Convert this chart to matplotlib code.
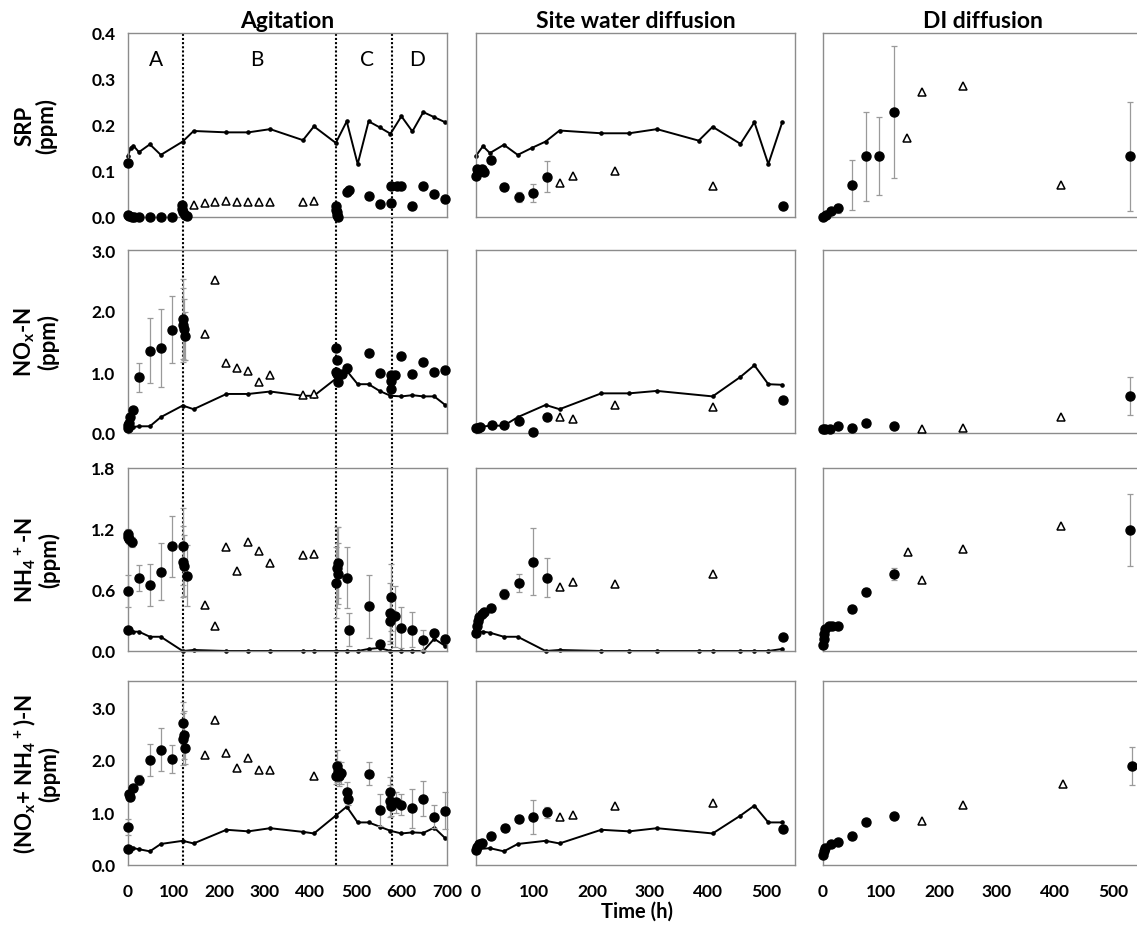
import numpy as np
import matplotlib
matplotlib.use('Agg')
import matplotlib.pyplot as plt
from matplotlib.lines import Line2D
from matplotlib.transforms import blended_transform_factory

plt.rcParams['font.family'] = ['Lato', 'DejaVu Sans']
plt.rcParams['mathtext.default'] = 'regular'

# ---------------- data ----------------
col_titles = ['Agitation', 'Site water diffusion', 'DI diffusion']
row_labels = ['SRP\n(ppm)', 'NO$_x$-N\n(ppm)', 'NH$_4$$^+$-N\n(ppm)',
              '(NO$_x$+ NH$_4$$^+$)-N\n(ppm)']
phase_t = [120, 457, 580]
phase_names = ['A', 'B', 'C', 'D']
phase_label_t = [62, 283, 525, 635]

# Agitation: line (site water), circles (+ sd), triangles
ag_lt = [0, 6, 12, 24, 48, 72, 120, 144, 216, 264, 312, 384, 408, 456,
         480, 504, 528, 552, 576, 600, 624, 648, 672, 696]
ag_srp_l = [0.133, 0.151, 0.155, 0.141, 0.158, 0.135, 0.164, 0.187, 0.184,
            0.184, 0.191, 0.167, 0.197, 0.161, 0.208, 0.115, 0.208, 0.195,
            0.181, 0.219, 0.186, 0.228, 0.217, 0.206]
ag_nox_l = [0.08, 0.09, 0.10, 0.11, 0.11, 0.26, 0.45, 0.39, 0.64, 0.64, 0.68,
            0.61, 0.61, 0.89, 1.02, 0.80, 0.80, 0.69, 0.61, 0.60, 0.62, 0.60,
            0.60, 0.46]
ag_nh4_l = [0.21, 0.20, 0.19, 0.19, 0.14, 0.14, 0.0, 0.01, 0.0, 0.0, 0.0, 0.0,
            0.0, 0.0, 0.0, 0.0, 0.02, 0.03, 0.0, 0.0, 0.0, 0.0, 0.12, 0.05]
ag_sum_l = [0.30, 0.31, 0.32, 0.30, 0.26, 0.40, 0.46, 0.41, 0.67, 0.64, 0.70,
            0.63, 0.60, 0.94, 1.11, 0.81, 0.81, 0.73, 0.65, 0.60, 0.62, 0.61,
            0.71, 0.51]

ag_srp_ct = [0, 0, 3, 8, 14, 25, 48, 72, 96, 118, 119, 121, 126, 130, 456, 457,
             458, 459, 460, 481, 485, 529, 553, 577, 578, 590, 600, 624, 648,
             672, 696]
ag_srp_c = [0.117, 0.004, 0.002, 0.0, 0.0, 0.0, 0.0, 0.0, 0.0, 0.026, 0.017,
            0.010, 0.004, 0.002, 0.024, 0.016, 0.010, 0.004, 0.0, 0.054, 0.058,
            0.045, 0.028, 0.030, 0.067, 0.067, 0.067, 0.025, 0.067, 0.051,
            0.039]
ag_srp_ce = [0] * len(ag_srp_c)
ag_srp_tt = [144, 168, 192, 216, 240, 264, 288, 312, 384, 408]
ag_srp_tr = [0.026, 0.030, 0.033, 0.035, 0.033, 0.033, 0.033, 0.033, 0.033,
             0.035]

ag_nox_ct = [0, 1, 2, 4, 12, 24, 48, 72, 96, 120, 121, 122, 125, 457, 458, 457,
             459, 460, 470, 481, 529, 553, 577, 577, 578, 586, 599, 623, 647,
             671, 696]
ag_nox_c = [0.09, 0.13, 0.17, 0.26, 0.37, 0.91, 1.35, 1.40, 1.69, 1.77, 1.87,
            1.70, 1.59, 1.40, 1.19, 1.00, 0.96, 0.83, 0.97, 1.06, 1.31, 0.98,
            0.95, 0.85, 0.72, 0.95, 1.26, 0.97, 1.16, 1.00, 1.04]
ag_nox_ce = [0, 0, 0, 0, 0, 0.24, 0.53, 0.64, 0.55, 0.60, 0.65, 0.50, 0.40,
             0, 0, 0, 0, 0, 0, 0, 0, 0, 0, 0, 0, 0, 0, 0, 0, 0, 0]
ag_nox_tt = [168, 192, 216, 240, 264, 288, 312, 384, 408]
ag_nox_tr = [1.63, 2.51, 1.14, 1.07, 1.01, 0.84, 0.95, 0.62, 0.64]

ag_nh4_ct = [0, 1, 3, 8, 0, 0, 24, 48, 72, 96, 120, 120, 122, 130, 456, 458,
             461, 461, 481, 484, 529, 553, 577, 576, 576, 586, 599, 623, 647,
             671, 696]
ag_nh4_c = [1.15, 1.12, 1.10, 1.07, 0.59, 0.21, 0.72, 0.65, 0.78, 1.03, 1.03,
            0.88, 0.84, 0.74, 0.67, 0.82, 0.87, 0.76, 0.72, 0.21, 0.44, 0.07,
            0.53, 0.37, 0.30, 0.34, 0.23, 0.21, 0.11, 0.18, 0.12]
ag_nh4_ce = [0.05, 0.05, 0.05, 0.05, 0.155, 0, 0.13, 0.21, 0.28, 0.30, 0.38,
             0.35, 0.30, 0.30, 0.35, 0.40, 0.35, 0.30, 0.30, 0.16, 0.31, 0,
             0.33, 0.30, 0.20, 0.30, 0.20, 0.17, 0.10, 0, 0]
ag_nh4_tt = [168, 192, 216, 240, 264, 288, 312, 384, 408]
ag_nh4_tr = [0.45, 0.25, 1.02, 0.79, 1.07, 0.98, 0.87, 0.94, 0.95]

ag_sum_ct = [0, 0, 3, 5, 12, 25, 48, 72, 96, 120, 121, 123, 125, 458, 460, 464,
             456, 467, 481, 483, 529, 553, 576, 575, 578, 587, 599, 624, 648,
             672, 696]
ag_sum_c = [0.30, 0.73, 1.35, 1.29, 1.46, 1.62, 2.00, 2.19, 2.02, 2.71, 2.40,
            2.47, 2.23, 1.88, 1.78, 1.70, 1.70, 1.75, 1.38, 1.25, 1.74, 1.05,
            1.38, 1.22, 1.13, 1.19, 1.15, 1.08, 1.26, 0.92, 1.03]
ag_sum_ce = [0, 0.15, 0, 0, 0, 0.10, 0.30, 0.41, 0.27, 0.40, 0.50, 0.45, 0.30,
             0.30, 0.20, 0.20, 0.15, 0.20, 0.20, 0.10, 0.22, 0.30, 0.30, 0.30,
             0.20, 0.20, 0.20, 0.37, 0.33, 0.22, 0.35]
ag_sum_tt = [168, 192, 216, 240, 264, 288, 312, 408]
ag_sum_tr = [2.09, 2.76, 2.13, 1.84, 2.04, 1.80, 1.80, 1.70]

# Site water diffusion
sw_srp_lt = [0, 12, 24, 48, 72, 96, 120, 144, 216, 264, 312, 384, 408, 456,
             480, 504, 528]
sw_srp_l = [0.133, 0.154, 0.139, 0.157, 0.135, 0.150, 0.164, 0.188, 0.182,
            0.182, 0.191, 0.166, 0.196, 0.159, 0.206, 0.115, 0.206]
sw_nox_lt = [0, 24, 48, 72, 120, 144, 216, 264, 312, 408, 456, 480, 504, 528]
sw_nox_l = [0.09, 0.12, 0.12, 0.26, 0.46, 0.39, 0.65, 0.65, 0.69, 0.60, 0.92,
            1.11, 0.80, 0.79]
sw_nh4_lt = [0, 12, 24, 48, 72, 120, 144, 216, 264, 312, 384, 408, 456, 480,
             504, 528]
sw_nh4_l = [0.19, 0.19, 0.18, 0.14, 0.14, 0.0, 0.01, 0.0, 0.0, 0.0, 0.0, 0.0,
            0.0, 0.0, 0.0, 0.02]
sw_sum_lt = [0, 24, 48, 72, 120, 144, 216, 264, 312, 408, 456, 480, 504, 528]
sw_sum_l = [0.30, 0.32, 0.26, 0.40, 0.46, 0.41, 0.67, 0.64, 0.70, 0.60, 0.94,
            1.13, 0.81, 0.81]

sw_srp_ct = [0, 1, 4, 10, 14, 26, 49, 74, 98, 122, 530]
sw_srp_c = [0.090, 0.104, 0.097, 0.104, 0.097, 0.124, 0.065, 0.044, 0.052,
            0.088, 0.023]
sw_srp_ce = [0, 0, 0, 0, 0, 0, 0, 0.011, 0.02, 0.033, 0]
sw_nox_ct = [0, 3, 7, 27, 49, 74, 98, 122, 530]
sw_nox_c = [0.08, 0.08, 0.10, 0.13, 0.13, 0.20, 0.02, 0.26, 0.54]
sw_nox_ce = [0, 0, 0, 0, 0, 0, 0, 0.03, 0]
sw_nh4_ct = [0, 1, 3, 6, 10, 14, 26, 49, 74, 98, 122, 530]
sw_nh4_c = [0.18, 0.25, 0.30, 0.33, 0.36, 0.38, 0.42, 0.56, 0.67, 0.88, 0.72,
            0.14]
sw_nh4_ce = [0, 0, 0, 0, 0, 0, 0, 0.05, 0.09, 0.33, 0.19, 0]
sw_sum_ct = [0, 2, 5, 10, 26, 50, 74, 98, 122, 530]
sw_sum_c = [0.28, 0.35, 0.39, 0.42, 0.56, 0.71, 0.87, 0.91, 1.00, 0.68]
sw_sum_ce = [0, 0, 0, 0, 0, 0, 0, 0.32, 0.10, 0]

sw_tt = [144, 168, 240, 408]
sw_srp_tr = [0.075, 0.090, 0.100, 0.068]
sw_nox_tr = [0.26, 0.23, 0.46, 0.42]
sw_nh4_tr = [0.63, 0.68, 0.66, 0.76]
sw_sum_tr = [0.92, 0.95, 1.13, 1.17]

# DI diffusion
di_srp_ct = [0, 5, 14, 25, 50, 74, 97, 123, 530]
di_srp_c = [0.0, 0.005, 0.014, 0.019, 0.070, 0.132, 0.132, 0.228, 0.132]
di_srp_ce = [0, 0, 0, 0.01, 0.055, 0.097, 0.085, 0.143, 0.118]
di_srp_tt = [145, 171, 241, 410]
di_srp_tr = [0.172, 0.272, 0.285, 0.070]

di_nox_ct = [0, 4, 12, 25, 50, 74, 122, 530]
di_nox_c = [0.07, 0.07, 0.07, 0.11, 0.08, 0.17, 0.11, 0.61]
di_nox_ce = [0, 0, 0, 0, 0, 0, 0, 0.31]
di_nox_tt = [170, 242, 410]
di_nox_tr = [0.07, 0.09, 0.27]

di_nh4_ct = [0, 1, 2, 4, 10, 16, 25, 50, 74, 123, 530]
di_nh4_c = [0.06, 0.12, 0.17, 0.22, 0.25, 0.25, 0.25, 0.41, 0.58, 0.76, 1.19]
di_nh4_ce = [0, 0, 0, 0, 0, 0, 0, 0, 0.04, 0.06, 0.355]
di_nh4_tt = [146, 171, 242, 410]
di_nh4_tr = [0.97, 0.70, 1.00, 1.23]

di_sum_ct = [0, 1, 4, 13, 26, 50, 74, 123, 532]
di_sum_c = [0.19, 0.26, 0.32, 0.40, 0.43, 0.56, 0.81, 0.93, 1.88]
di_sum_ce = [0, 0, 0, 0, 0, 0, 0, 0.03, 0.36]
di_sum_tt = [170, 242, 413]
di_sum_tr = [0.83, 1.15, 1.55]

# ---------------- layout ----------------
W, H = 1137, 928
col_left = [128, 476, 823]
col_w = 319
row_top = [34, 251, 469, 682]
row_h = [184, 183, 183, 184]
xlims = [700, 550, 550]
xticks = [np.arange(0, 701, 100), np.arange(0, 501, 100), np.arange(0, 501, 100)]
ylims = [0.4, 3.0, 1.8, 3.5]
yticks = [[0, 0.1, 0.2, 0.3, 0.4], [0, 1, 2, 3], [0, 0.6, 1.2, 1.8], [0, 1, 2, 3]]

panels = [
    [(ag_lt, ag_srp_l, ag_srp_ct, ag_srp_c, ag_srp_ce, ag_srp_tt, ag_srp_tr),
     (sw_srp_lt, sw_srp_l, sw_srp_ct, sw_srp_c, sw_srp_ce, sw_tt, sw_srp_tr),
     (None, None, di_srp_ct, di_srp_c, di_srp_ce, di_srp_tt, di_srp_tr)],
    [(ag_lt, ag_nox_l, ag_nox_ct, ag_nox_c, ag_nox_ce, ag_nox_tt, ag_nox_tr),
     (sw_nox_lt, sw_nox_l, sw_nox_ct, sw_nox_c, sw_nox_ce, sw_tt, sw_nox_tr),
     (None, None, di_nox_ct, di_nox_c, di_nox_ce, di_nox_tt, di_nox_tr)],
    [(ag_lt, ag_nh4_l, ag_nh4_ct, ag_nh4_c, ag_nh4_ce, ag_nh4_tt, ag_nh4_tr),
     (sw_nh4_lt, sw_nh4_l, sw_nh4_ct, sw_nh4_c, sw_nh4_ce, sw_tt, sw_nh4_tr),
     (None, None, di_nh4_ct, di_nh4_c, di_nh4_ce, di_nh4_tt, di_nh4_tr)],
    [(ag_lt, ag_sum_l, ag_sum_ct, ag_sum_c, ag_sum_ce, ag_sum_tt, ag_sum_tr),
     (sw_sum_lt, sw_sum_l, sw_sum_ct, sw_sum_c, sw_sum_ce, sw_tt, sw_sum_tr),
     (None, None, di_sum_ct, di_sum_c, di_sum_ce, di_sum_tt, di_sum_tr)],
]

fig = plt.figure(figsize=(W / 100, H / 100), dpi=100)
axes = [[None] * 3 for _ in range(4)]

for r in range(4):
    for c in range(3):
        ax = fig.add_axes([col_left[c] / W, 1 - (row_top[r] + row_h[r]) / H,
                           col_w / W, row_h[r] / H])
        ax.set_facecolor('none')
        axes[r][c] = ax
        lt, lv, ct, cv, ce, tt, tv = panels[r][c]
        if lt is not None:
            ax.plot(lt, lv, color='black', lw=1.4, marker='o', ms=2.3,
                    zorder=2, clip_on=False)
        ax.errorbar(ct, cv, yerr=ce, fmt='o', color='black', ms=6.5,
                    ecolor='#9a9a9a', elinewidth=0.9, capsize=2.5,
                    capthick=0.9, zorder=3, clip_on=False)
        ax.plot(tt, tv, '^', mfc='white', mec='black', ms=6, mew=1.1,
                zorder=4, clip_on=False)

        ax.set_xlim(0, xlims[c])
        ax.set_ylim(0, ylims[r])
        ax.set_xticks(xticks[c])
        ax.set_yticks(yticks[r])
        ax.tick_params(length=0, labelsize=12.5, pad=9)
        for s in ax.spines.values():
            s.set_color('#8c8c8c')
            s.set_linewidth(1.0)
        if c == 0:
            ax.set_yticklabels([f'{v:.1f}' for v in yticks[r]], fontweight='bold')
        else:
            ax.set_yticklabels([])
        if r == 3:
            ax.set_xticklabels([str(v) for v in xticks[c]], fontweight='bold')
            ax.tick_params(axis='x', pad=13)
        else:
            ax.set_xticklabels([])

# phase boundaries across the agitation column
trans = blended_transform_factory(axes[0][0].transData, fig.transFigure)
for t in phase_t:
    fig.add_artist(Line2D([t, t], [1 - 866 / H, 1 - 34 / H], transform=trans,
                          color='black', lw=1.5, linestyle=(0, (1, 1)),
                          zorder=-1))
for name, t in zip(phase_names, phase_label_t):
    axes[0][0].text(t, 0.343, name, ha='center', va='center', fontsize=15)

for c, title in enumerate(col_titles):
    fig.text((col_left[c] + col_w / 2) / W, 1 - 21 / H, title,
             ha='center', va='center', fontsize=16.5, fontweight='bold')

for r, lab in enumerate(row_labels):
    fig.text(36 / W, 1 - (row_top[r] + row_h[r] / 2) / H, lab, rotation=90,
             ha='center', va='center', fontsize=16, fontweight='bold',
             multialignment='center', linespacing=1.0)

fig.text(637 / W, 1 - 912 / H, 'Time (h)', ha='center', va='center',
         fontsize=14.5, fontweight='bold')

fig.savefig('out.png', dpi=100)
plt.close(fig)
